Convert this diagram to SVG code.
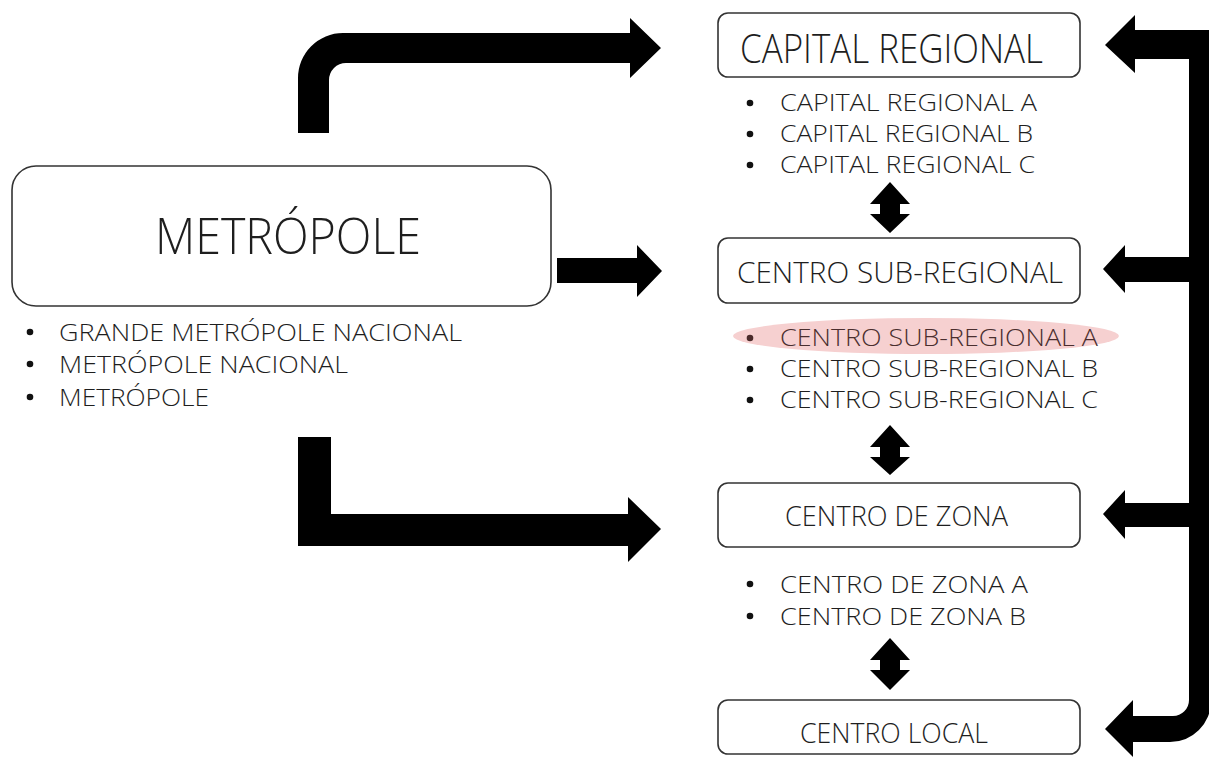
<svg xmlns="http://www.w3.org/2000/svg" width="1209" height="758" viewBox="0 0 1209 758">
<style>
.box{fill:#fff;stroke:#333;stroke-width:1.6}
.t{font-family:"Open Sans","Liberation Sans",sans-serif;font-weight:300;fill:#1e1e1e}
.li{font-size:24px}
.arr{fill:#000}
.dot{fill:#111}
</style>
<rect width="1209" height="758" fill="#fff"/>
<g id="connectors">
<path class="arr" d="M298,133 L298,78 A45,45 0 0 1 343,33 L630,33 L630,18 L661,48 L630,78 L630,63 L346,63 A17,17 0 0 0 329,80 L329,133 Z"/>
<path class="arr" d="M557,258 L637,258 L637,245 L662,271 L637,297 L637,283 L557,283 Z"/>
<path class="arr" d="M298,437 L331,437 L331,514 L628,514 L628,497 L661,529 L628,562 L628,546 L298,546 Z"/>
<path class="arr" d="M1211,30 L1135,30 L1135,15 L1105,45 L1135,73 L1135,59 L1189,59 L1189,700 A16,16 0 0 1 1173,716 L1133,716 L1133,700 L1105,729 L1133,757 L1133,742 L1170,742 A41,41 0 0 0 1211,701 Z"/>
<path class="arr" d="M1190,257 L1125,257 L1125,245 L1103,269 L1125,293 L1125,282 L1190,282 Z"/>
<path class="arr" d="M1190,503 L1125,503 L1125,490 L1103,514 L1125,539 L1125,527 L1190,527 Z"/>
<path class="arr" d="M890,182 L910,204 L900,204 L900,214 L910,214 L890,233 L870,214 L880,214 L880,204 L870,204 Z"/>
<path class="arr" d="M890,425 L910,447 L900,447 L900,457 L910,457 L890,475 L870,457 L880,457 L880,447 L870,447 Z"/>
<path class="arr" d="M890,638 L910,660 L900,660 L900,670 L910,670 L890,690 L870,670 L880,670 L880,660 L870,660 Z"/>
</g>
<g id="metropole">
<rect class="box" x="12" y="166" width="539" height="140" rx="24"/>
<text class="t" x="155" y="254" font-size="50" textLength="266" lengthAdjust="spacingAndGlyphs">METRÓPOLE</text>
<circle class="dot" cx="30" cy="332" r="3.3"/>
<circle class="dot" cx="30" cy="364" r="3.3"/>
<circle class="dot" cx="30" cy="397" r="3.3"/>
<text class="t li" x="59" y="341" textLength="403" lengthAdjust="spacingAndGlyphs">GRANDE METRÓPOLE NACIONAL</text>
<text class="t li" x="59" y="373" textLength="289" lengthAdjust="spacingAndGlyphs">METRÓPOLE NACIONAL</text>
<text class="t li" x="59" y="406" textLength="150" lengthAdjust="spacingAndGlyphs">METRÓPOLE</text>
</g>
<g id="capital-regional">
<rect class="box" x="718" y="13" width="362" height="64" rx="10"/>
<text class="t" x="740" y="63" font-size="41" textLength="303" lengthAdjust="spacingAndGlyphs">CAPITAL REGIONAL</text>
<circle class="dot" cx="750" cy="103" r="3.3"/>
<circle class="dot" cx="750" cy="134" r="3.3"/>
<circle class="dot" cx="750" cy="165" r="3.3"/>
<text class="t li" x="780" y="111" textLength="257" lengthAdjust="spacingAndGlyphs">CAPITAL REGIONAL A</text>
<text class="t li" x="780" y="142" textLength="253" lengthAdjust="spacingAndGlyphs">CAPITAL REGIONAL B</text>
<text class="t li" x="780" y="173" textLength="255" lengthAdjust="spacingAndGlyphs">CAPITAL REGIONAL C</text>
</g>
<g id="centro-sub-regional">
<rect class="box" x="718" y="238" width="362" height="65" rx="10"/>
<text class="t" x="737" y="283" font-size="30" textLength="326" lengthAdjust="spacingAndGlyphs">CENTRO SUB-REGIONAL</text>
<ellipse cx="926" cy="336" rx="193" ry="18" fill="#f6d0d0"/>
<circle cx="750" cy="338" r="3.3" fill="#4a2a2a"/>
<circle class="dot" cx="750" cy="369" r="3.3"/>
<circle class="dot" cx="750" cy="400" r="3.3"/>
<text class="t li" x="780" y="346" style="fill:#4a2e2e" textLength="318" lengthAdjust="spacingAndGlyphs">CENTRO SUB-REGIONAL A</text>
<text class="t li" x="780" y="377" textLength="318" lengthAdjust="spacingAndGlyphs">CENTRO SUB-REGIONAL B</text>
<text class="t li" x="780" y="408" textLength="318" lengthAdjust="spacingAndGlyphs">CENTRO SUB-REGIONAL C</text>
</g>
<g id="centro-de-zona">
<rect class="box" x="718" y="483" width="362" height="64" rx="10"/>
<text class="t" x="785" y="526" font-size="27" textLength="223" lengthAdjust="spacingAndGlyphs">CENTRO DE ZONA</text>
<circle class="dot" cx="750" cy="584" r="3.3"/>
<circle class="dot" cx="750" cy="616" r="3.3"/>
<text class="t li" x="780" y="593" textLength="248" lengthAdjust="spacingAndGlyphs">CENTRO DE ZONA A</text>
<text class="t li" x="780" y="625" textLength="246" lengthAdjust="spacingAndGlyphs">CENTRO DE ZONA B</text>
</g>
<g id="centro-local">
<rect class="box" x="718" y="700" width="362" height="54" rx="10"/>
<text class="t" x="800" y="743" font-size="28" textLength="188" lengthAdjust="spacingAndGlyphs">CENTRO LOCAL</text>
</g>
</svg>
